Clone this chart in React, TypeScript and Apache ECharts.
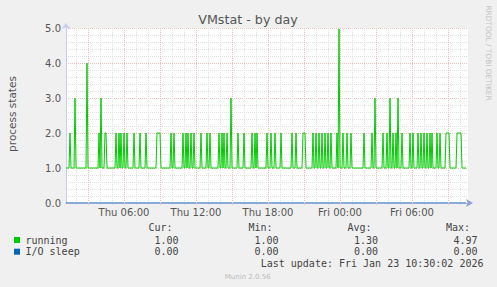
import React, { useEffect, useRef } from "react";
import * as echarts from "echarts";

// Time is measured in minutes since Thu 00:00; one sample every 5 minutes.
const sampleStartMinute = 70; // Thu 01:10
const sampleStepMinutes = 5;
const sampleCount = 401; // up to Fri 10:30
const axisStartMinute = 70;
const axisEndMinute = 2080; // Fri 10:40

// "running": baseline value and the samples that differ from it [sampleIndex, value]
const runningBaseline = 1;
const runningPeaks: [number, number][] = [
  [4, 2], [9, 3], [21, 4], [33, 2], [35, 3], [39, 2], [40, 2],
  [50, 2], [53, 2], [55, 2], [58, 2], [61, 2],
  [68, 2], [74, 2], [80, 2],
  [91, 2], [92, 2], [93, 2], [94, 2],
  [105, 2], [108, 2],
  [117, 2], [120, 2], [122, 2], [125, 2], [128, 2],
  [135, 2], [141, 2], [144, 2],
  [153, 2], [156, 2], [158, 2], [161, 2], [165, 3],
  [172, 2], [178, 2],
  [186, 2], [189, 2], [191, 2],
  [201, 2], [205, 2], [209, 2], [215, 2],
  [226, 2], [230, 2],
  [237, 2], [238, 2], [239, 2],
  [247, 2], [250, 2], [253, 2], [256, 2], [259, 2], [262, 2], [265, 2],
  [271, 2], [273, 4.97], [277, 2], [281, 2], [285, 2],
  [298, 2], [306, 2], [309, 3], [317, 2], [321, 2], [324, 3], [327, 2], [330, 2], [332, 3], [336, 2],
  [344, 2], [347, 2], [352, 2], [355, 2], [358, 2], [361, 2], [364, 2], [366, 2],
  [371, 2], [374, 2],
  [380, 2], [381, 2], [382, 2], [383, 2],
  [391, 2], [392, 2], [393, 2], [394, 2], [395, 2],
];
const ioSleepValue = 0;

const xLabelValues = [360, 720, 1080, 1440, 1800];
const xLabelTexts = ["Thu 06:00", "Thu 12:00", "Thu 18:00", "Fri 00:00", "Fri 06:00"];

const seriesNames = ["running", "I/O sleep"];
const seriesColors = ["#00CC00", "#0066B3"];
const statHeaders = ["Cur:", "Min:", "Avg:", "Max:"];
const runningStats = ["1.00", "1.00", "1.30", "4.97"];
const ioSleepStats = ["0.00", "0.00", "0.00", "0.00"];

const titleText = "VMstat - by day";
const yAxisTitle = "process states";
const sideText = "RRDTOOL / TOBI OETIKER";
const lastUpdateText = "Last update: Fri Jan 23 10:30:02 2026";
const footerText = "Munin 2.0.56";

export default function App() {
  const ref = useRef<HTMLDivElement>(null);

  useEffect(() => {
    if (!ref.current) return;
    const chart = echarts.init(ref.current, null, { renderer: "svg" });

    const peakMap = new Map<number, number>(runningPeaks);
    const runningData: [number, number][] = [];
    const ioData: [number, number][] = [];
    for (let i = 0; i < sampleCount; i++) {
      const t = sampleStartMinute + i * sampleStepMinutes;
      runningData.push([t, peakMap.has(i) ? (peakMap.get(i) as number) : runningBaseline]);
      ioData.push([t, ioSleepValue]);
    }

    const hourValues: number[] = [];
    const threeHourValues: number[] = [];
    for (let m = 60; m < axisEndMinute; m += 60) {
      if (m <= axisStartMinute) continue;
      if (m % 180 === 0) threeHourValues.push(m);
      else hourValues.push(m);
    }

    const grey = "#E0E0E0";
    const red = "#F0C0C0";
    const mono = "DejaVu Sans Mono";
    const sans = "DejaVu Sans";
    const textCol = "#555";
    const legendCol = "#444";

    const colX = [154.5, 254.5, 354, 453.5];
    const headX = [148.5, 248.5, 347.5, 446];

    const graphics: any[] = [
      { type: "text", x: 248, y: 19.5, style: { text: titleText, font: `12.7px ${sans}`, fill: textCol, align: "center", verticalAlign: "middle" } },
      { type: "text", x: 11.5, y: 114, rotation: Math.PI / 2, style: { text: yAxisTitle, font: `10.5px ${sans}`, fill: textCol, align: "center", verticalAlign: "middle" } },
      { type: "text", x: 488.5, y: 53, rotation: -Math.PI / 2, style: { text: sideText, font: `7.4px ${sans}`, fill: "#C4C4C4", align: "center", verticalAlign: "middle" } },
      { type: "text", x: 260.7, y: 263.5, style: { text: lastUpdateText, font: `10px ${mono}`, fill: legendCol, align: "left", verticalAlign: "middle" } },
      { type: "text", x: 247.7, y: 276.5, style: { text: footerText, font: `7px ${sans}`, fill: "#BBBBBB", align: "center", verticalAlign: "middle" } },
    ];
    statHeaders.forEach((h, i) => {
      graphics.push({ type: "text", x: headX[i], y: 227.5, style: { text: h, font: `10px ${mono}`, fill: legendCol, align: "left", verticalAlign: "middle" } });
    });
    const rows = [runningStats, ioSleepStats];
    const rowY = [240, 251.7];
    seriesNames.forEach((name, r) => {
      graphics.push({ type: "rect", shape: { x: 14, y: rowY[r] - 3, width: 6, height: 6 }, style: { fill: seriesColors[r] } });
      graphics.push({ type: "text", x: 25.5, y: rowY[r], style: { text: name, font: `10px ${mono}`, fill: legendCol, align: "left", verticalAlign: "middle" } });
      rows[r].forEach((v, i) => {
        graphics.push({ type: "text", x: colX[i], y: rowY[r], style: { text: v, font: `10px ${mono}`, fill: legendCol, align: "left", verticalAlign: "middle" } });
      });
    });

    const option: any = {
      animation: false,
      backgroundColor: "#F0F0F0",
      textStyle: { fontFamily: sans },
      grid: { left: 66, top: 28, width: 402, height: 175, show: true, backgroundColor: "#FFFFFF", borderWidth: 0 },
      xAxis: [
        {
          type: "value",
          min: axisStartMinute,
          max: axisEndMinute,
          position: "bottom",
          z: 2,
          axisLine: { show: true, lineStyle: { color: "#8FA0D8", width: 1, opacity: 0.8 }, symbol: ["none", "arrow"], symbolSize: [6, 7], symbolOffset: [0, 5] },
          axisTick: { show: true, customValues: threeHourValues, length: 2, lineStyle: { color: red } },
          axisLabel: {
            show: true,
            customValues: xLabelValues,
            formatter: (v: number) => { const k = xLabelValues.indexOf(v); return k >= 0 ? xLabelTexts[k] : ""; },
            color: textCol, fontSize: 10, fontFamily: sans, margin: 4,
          },
          splitLine: { show: true, lineStyle: { color: red, type: [1, 1], width: 1 } },
        },
        {
          type: "value",
          min: axisStartMinute,
          max: axisEndMinute,
          position: "top",
          offset: -175,
          z: 1,
          axisLine: { show: false },
          axisTick: { show: true, inside: true, customValues: hourValues, length: 2, lineStyle: { color: grey } },
          axisLabel: { show: false },
          splitLine: { show: true, lineStyle: { color: grey, type: [1, 1], width: 1 } },
        },
      ],
      yAxis: {
        type: "value",
        min: 0,
        max: 5,
        interval: 1,
        z: 1,
        axisLine: { show: true, lineStyle: { color: "#C8CEF2", width: 1 }, symbol: ["none", "arrow"], symbolSize: [7, 6], symbolOffset: [0, 5] },
        axisTick: { show: false },
        axisLabel: { formatter: (v: number) => v.toFixed(1), color: textCol, fontSize: 10, fontFamily: sans, margin: 5 },
        splitLine: { show: true, lineStyle: { color: red, type: [1, 1], width: 1 } },
        minorTick: { show: false, splitNumber: 5 },
        minorSplitLine: { show: true, lineStyle: { color: grey, type: [1, 1], width: 1 } },
      },
      series: [
        {
          name: seriesNames[0], type: "line", xAxisIndex: 0, data: runningData, showSymbol: false, z: 3,
          lineStyle: { color: seriesColors[0], width: 1 }, emphasis: { disabled: true },
        },
        {
          name: seriesNames[1], type: "line", xAxisIndex: 0, data: ioData, showSymbol: false, z: 1,
          lineStyle: { color: seriesColors[1], width: 1 }, emphasis: { disabled: true },
        },
      ],
      graphic: graphics,
    };
    chart.setOption(option);
    return () => chart.dispose();
  }, []);

  return <div ref={ref} style={{ position: "fixed", left: 0, top: 0, width: 497, height: 287 }} />;
}
